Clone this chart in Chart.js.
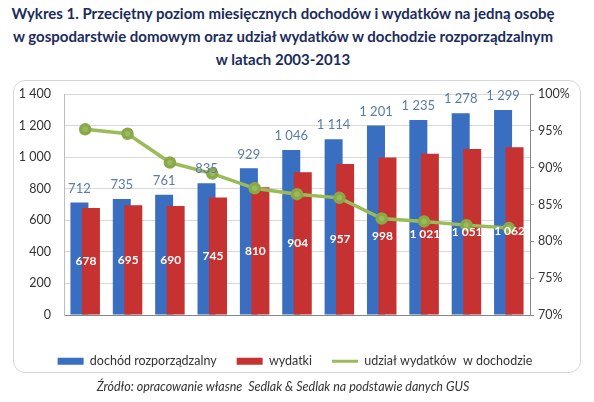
<!DOCTYPE html>
<html>
<head>
<meta charset="utf-8">
<script src="https://cdn.jsdelivr.net/npm/chart.js@4.4.1/dist/chart.umd.min.js"></script>
<style>
  body { margin: 0; width: 594px; height: 402px; background: #fff; position: relative; overflow: hidden; font-family: Lato, sans-serif; }
  #tytul { position: absolute; left: 0; top: 2px; width: 566px; text-align: center; font-weight: bold; font-size: 15px; line-height: 23px; color: #1b2c5c; }
  #ramka { position: absolute; left: 13px; top: 80px; width: 566px; height: 291px; border: 1px solid #d6d6d6; border-radius: 12px; }
  #zrodlo { position: absolute; left: 0; top: 379px; width: 566px; text-align: center; font-style: italic; font-size: 12.5px; color: #333; }
  #wykres { position: absolute; left: 0; top: 0; width: 594px; height: 402px; }
</style>
</head>
<body>
<div id="tytul">Wykres 1. Przeciętny poziom miesięcznych dochodów i wydatków na jedną osobę<br>w gospodarstwie domowym oraz udział wydatków w dochodzie rozporządzalnym<br>w latach 2003-2013</div>
<div id="ramka"></div>
<div id="wykres"><canvas id="c"></canvas></div>
<div id="zrodlo">Źródło: opracowanie własne&nbsp; Sedlak &amp; Sedlak na podstawie danych GUS</div>
<script>
// dane
const lata = ["2003", "2004", "2005", "2006", "2007", "2008", "2009", "2010", "2011", "2012", "2013"];
const dochod = [712, 735, 761, 835, 929, 1046, 1114, 1201, 1235, 1278, 1299];
const wydatki = [678, 695, 690, 745, 810, 904, 957, 998, 1021, 1051, 1062];
const udzial = [95.2, 94.6, 90.7, 89.2, 87.2, 86.4, 85.9, 83.1, 82.7, 82.2, 81.8];

// "1 046" - spacja jako separator tysięcy
const fmt = v => v >= 1000 ? Math.floor(v / 1000) + " " + String(v % 1000).padStart(3, "0") : String(v);

// czerwone słupki mają być przed niebieskimi
const kolejnosc = {
  id: "kolejnosc",
  beforeDatasetDraw(chart, args) {
    if (args.index === 1) return false;
  },
  afterDatasetDraw(chart, args) {
    if (args.index === 0) chart.getDatasetMeta(1).controller.draw();
  }
};

// etykiety wartości nad i w słupkach
const etykiety = {
  id: "etykiety",
  afterDatasetsDraw(chart) {
    const ctx = chart.ctx;
    ctx.save();
    ctx.textAlign = "center";
    ctx.textBaseline = "middle";
    ctx.font = "13px Lato";
    ctx.fillStyle = "#5b7bab";
    chart.getDatasetMeta(0).data.forEach((el, i) => {
      ctx.fillText(fmt(dochod[i]), el.x, el.y - 14);
    });
    ctx.font = "bold 12px Lato";
    ctx.fillStyle = "#fff";
    chart.getDatasetMeta(1).data.forEach((el, i) => {
      ctx.fillText(fmt(wydatki[i]), el.x - 5, (el.y + el.base) / 2);
    });
    ctx.restore();
  }
};

Chart.defaults.font.family = "Lato";
Chart.defaults.color = "#333";

new Chart(document.getElementById("c"), {
  type: "bar",
  data: {
    labels: lata,
    datasets: [{
      label: "dochód rozporządzalny",
      data: dochod,
      backgroundColor: "#3a6ec0",
      categoryPercentage: 0.543,
      barPercentage: 1.565,
      yAxisID: "y"
    }, {
      label: "wydatki",
      data: wydatki,
      backgroundColor: "#c63131",
      categoryPercentage: 0.543,
      barPercentage: 1.565,
      yAxisID: "y"
    }, {
      type: "line",
      label: "udział wydatków  w dochodzie",
      data: udzial,
      borderColor: "#9bbb59",
      backgroundColor: "#9bbb59",
      borderWidth: 3.5,
      pointRadius: 4.5,
      pointBackgroundColor: "#9bbb59",
      pointBorderColor: "#8aa84a",
      tension: 0,
      order: -1,
      yAxisID: "y1"
    }]
  },
  options: {
    responsive: true,
    maintainAspectRatio: false,
    animation: false,
    layout: { padding: { left: 14, right: 18, top: 94, bottom: 24.5 } },
    plugins: {
      legend: {
        position: "bottom",
        labels: {
          usePointStyle: true,
          pointStyleWidth: 26,
          boxHeight: 7,
          padding: 20,
          font: { size: 12.5 },
          sort: (a, b) => a.datasetIndex - b.datasetIndex,
          generateLabels(chart) {
            const items = Chart.defaults.plugins.legend.labels.generateLabels(chart);
            items.forEach(it => {
              if (it.datasetIndex === 2) {
                it.pointStyle = "line";
                it.lineWidth = 3;
                it.strokeStyle = "#9bbb59";
              } else {
                it.pointStyle = "rect";
              }
            });
            return items;
          }
        }
      },
      tooltip: { enabled: false }
    },
    scales: {
      x: {
        grid: { display: false },
        border: { color: "#868686" },
        ticks: { font: { size: 12.5 }, padding: 11 },
        afterFit: s => { s.height = 20; }
      },
      y: {
        position: "left",
        min: 0,
        max: 1400,
        ticks: { stepSize: 200, callback: v => fmt(v), font: { size: 12.5 }, padding: 13 },
        grid: { color: "#d9d9d9", drawTicks: false },
        border: { color: "#bdbdbd" },
        afterFit: s => { s.width = 50; }
      },
      y1: {
        position: "right",
        min: 70,
        max: 100,
        ticks: { stepSize: 5, callback: v => v + "%", font: { size: 12.5 }, padding: 4 },
        grid: { drawOnChartArea: false, drawTicks: true, tickLength: 4, tickColor: "#868686" },
        border: { color: "#868686" },
        afterFit: s => { s.width = 46; }
      }
    }
  },
  plugins: [kolejnosc, etykiety]
});
</script>
</body>
</html>
